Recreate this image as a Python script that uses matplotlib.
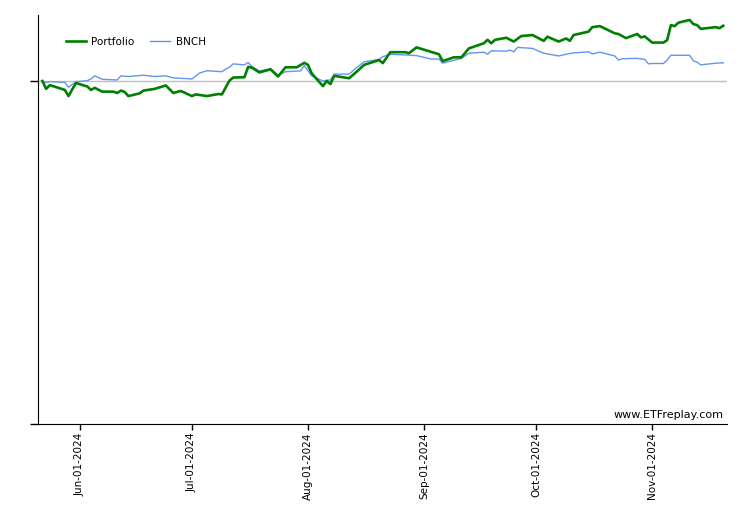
import numpy as np
import pandas as pd
import matplotlib
matplotlib.use("Agg")
import matplotlib.pyplot as plt
import matplotlib.dates as mdates

# growth of $10,000
port_dates = ["2024-05-22", "2024-05-23", "2024-05-24", "2024-05-28", "2024-05-29", "2024-05-30",
              "2024-05-31", "2024-06-03", "2024-06-04", "2024-06-05", "2024-06-07", "2024-06-10",
              "2024-06-11", "2024-06-12", "2024-06-13", "2024-06-14", "2024-06-17", "2024-06-18",
              "2024-06-21", "2024-06-24", "2024-06-26", "2024-06-28", "2024-07-01", "2024-07-02",
              "2024-07-05", "2024-07-08", "2024-07-09", "2024-07-11", "2024-07-12", "2024-07-15",
              "2024-07-16", "2024-07-17", "2024-07-19", "2024-07-22", "2024-07-24", "2024-07-26",
              "2024-07-29", "2024-07-31", "2024-08-01", "2024-08-02", "2024-08-05", "2024-08-06",
              "2024-08-07", "2024-08-08", "2024-08-12", "2024-08-14", "2024-08-16", "2024-08-20",
              "2024-08-21", "2024-08-22", "2024-08-23", "2024-08-27", "2024-08-28", "2024-08-30",
              "2024-09-05", "2024-09-06", "2024-09-09", "2024-09-11", "2024-09-13", "2024-09-17",
              "2024-09-18", "2024-09-19", "2024-09-20", "2024-09-23", "2024-09-25", "2024-09-27",
              "2024-09-30", "2024-10-03", "2024-10-04", "2024-10-07", "2024-10-09", "2024-10-10",
              "2024-10-11", "2024-10-15", "2024-10-16", "2024-10-18", "2024-10-22", "2024-10-23",
              "2024-10-25", "2024-10-28", "2024-10-29", "2024-10-30", "2024-11-01", "2024-11-04",
              "2024-11-05", "2024-11-06", "2024-11-07", "2024-11-08", "2024-11-11", "2024-11-12",
              "2024-11-13", "2024-11-14", "2024-11-18", "2024-11-19", "2024-11-20"]
port_vals = [10000, 9770, 9880, 9740, 9560, 9760,
             9940, 9840, 9740, 9800, 9690, 9690,
             9650, 9720, 9680, 9560, 9640, 9720,
             9770, 9870, 9650, 9710, 9560, 9610,
             9560, 9620, 9610, 10010, 10100, 10110,
             10410, 10390, 10250, 10340, 10130, 10400,
             10400, 10530, 10470, 10220, 9850, 10000,
             9910, 10150, 10080, 10270, 10470, 10610,
             10520, 10680, 10840, 10840, 10810, 10980,
             10780, 10580, 10690, 10690, 10950, 11100,
             11200, 11100, 11200, 11260, 11150, 11310,
             11340, 11170, 11290, 11150, 11240, 11170,
             11340, 11440, 11570, 11600, 11390, 11370,
             11250, 11370, 11270, 11300, 11120, 11120,
             11190, 11630, 11600, 11700, 11780, 11660,
             11630, 11520, 11570, 11540, 11610]

bnch_dates = ["2024-05-22", "2024-05-23", "2024-05-24", "2024-05-28", "2024-05-29", "2024-05-31",
              "2024-06-03", "2024-06-04", "2024-06-05", "2024-06-07", "2024-06-11", "2024-06-12",
              "2024-06-14", "2024-06-18", "2024-06-21", "2024-06-24", "2024-06-26", "2024-07-01",
              "2024-07-03", "2024-07-05", "2024-07-09", "2024-07-10", "2024-07-11", "2024-07-12",
              "2024-07-15", "2024-07-16", "2024-07-17", "2024-07-19", "2024-07-22", "2024-07-24",
              "2024-07-26", "2024-07-29", "2024-07-30", "2024-07-31", "2024-08-02", "2024-08-05",
              "2024-08-06", "2024-08-07", "2024-08-08", "2024-08-12", "2024-08-14", "2024-08-16",
              "2024-08-20", "2024-08-21", "2024-08-23", "2024-08-27", "2024-08-30", "2024-09-03",
              "2024-09-05", "2024-09-06", "2024-09-11", "2024-09-13", "2024-09-17", "2024-09-18",
              "2024-09-19", "2024-09-23", "2024-09-24", "2024-09-25", "2024-09-26", "2024-09-30",
              "2024-10-03", "2024-10-07", "2024-10-09", "2024-10-11", "2024-10-15", "2024-10-16",
              "2024-10-18", "2024-10-22", "2024-10-23", "2024-10-24", "2024-10-28", "2024-10-30",
              "2024-10-31", "2024-11-01", "2024-11-04", "2024-11-05", "2024-11-06", "2024-11-11",
              "2024-11-12", "2024-11-13", "2024-11-14", "2024-11-18", "2024-11-20"]
bnch_vals = [10000, 9950, 9980, 9960, 9820, 9980,
             10010, 10060, 10150, 10050, 10030, 10150,
             10130, 10170, 10130, 10150, 10090, 10060,
             10230, 10300, 10270, 10350, 10400, 10500,
             10470, 10540, 10420, 10290, 10360, 10170,
             10270, 10290, 10290, 10450, 10150, 10000,
             10020, 10030, 10200, 10200, 10390, 10560,
             10630, 10710, 10780, 10760, 10740, 10640,
             10640, 10520, 10660, 10810, 10840, 10780,
             10880, 10870, 10900, 10850, 10980, 10950,
             10810, 10730, 10780, 10820, 10850, 10790,
             10840, 10730, 10610, 10650, 10660, 10630,
             10500, 10510, 10510, 10610, 10750, 10750,
             10590, 10550, 10470, 10520, 10530]

port = pd.Series(port_vals, index=pd.to_datetime(port_dates))
bnch = pd.Series(bnch_vals, index=pd.to_datetime(bnch_dates))

fig = plt.figure(figsize=(7.5, 5.3), dpi=100)
ax = fig.add_axes([38 / 750, 1 - 424 / 530, (727 - 38) / 750, (424 - 15) / 530])

ax.axhline(10000, color='#c0c0c0', linewidth=1, zorder=1)
ax.plot(bnch.index, bnch.values, color='#6495ed', linewidth=1, label='BNCH', zorder=2)
ax.plot(port.index, port.values, color='#008000', linewidth=1.9, label='Portfolio', zorder=3)

ax.set_xlim(pd.Timestamp("2024-05-20 20:00"), pd.Timestamp("2024-11-21 00:00"))
ax.set_ylim(0, 11924)

ax.spines['top'].set_visible(False)
ax.spines['right'].set_visible(False)
ax.set_yticks([0, 10000])
ax.set_yticklabels([])
ax.tick_params(axis='y', length=6, width=1, direction='out')
ax.tick_params(axis='x', length=4, width=1, direction='out', labelsize=7.5, pad=2)

ax.xaxis.set_major_locator(mdates.MonthLocator(bymonthday=1))
ax.xaxis.set_major_formatter(mdates.DateFormatter('%b-%d-%Y'))
plt.setp(ax.get_xticklabels(), rotation=90)

handles, labels = ax.get_legend_handles_labels()
ax.legend(handles[::-1], labels[::-1], loc='upper left', ncol=2, frameon=False, fontsize=7.5,
          bbox_to_anchor=(0.027, 0.97), handlelength=1.9, columnspacing=1.5, handletextpad=0.55)

ax.text(0.995, 0.01, 'www.ETFreplay.com', transform=ax.transAxes, ha='right', va='bottom', fontsize=8)

plt.savefig("out.png", dpi=100)
plt.close()
